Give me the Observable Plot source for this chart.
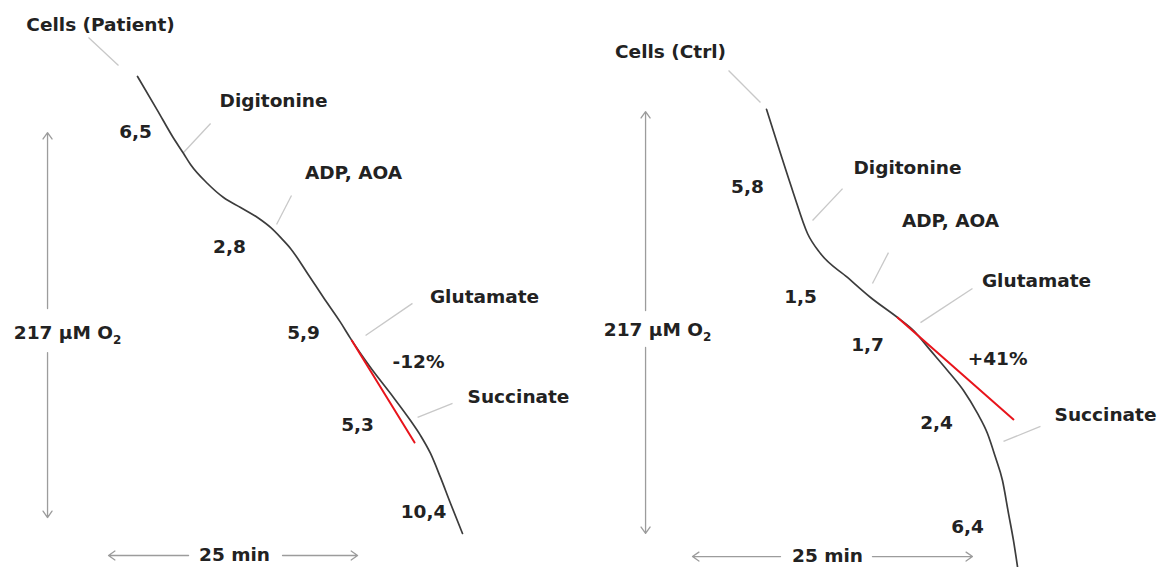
<!DOCTYPE html>
<html>
<head>
<meta charset="utf-8">
<script src="https://cdn.jsdelivr.net/npm/d3@7"></script>
<script src="https://cdn.jsdelivr.net/npm/@observablehq/plot@0.6"></script>
<style>
  html, body { margin: 0; padding: 0; background: #fff; }
  #wrap { display: flex; width: 1159px; height: 567px; overflow: hidden; }
  #wrap svg { display: block; }
</style>
</head>
<body>
<div id="wrap"></div>
<script>
// ---------- data (time in min from cell addition, O2 in µM) ----------
const patientTime = [0, 2.01, 3.51, 4.62, 5.32, 7.02, 8.63, 10.34, 12.04, 13.35, 14.35, 15.35, 17.06, 18.66, 20.37, 21.37, 23.38, 25.39, 27.39, 28.40, 29.40, 30.40, 31.41, 32.61];
const patientO2   = [257.6, 238.4, 223.8, 214.2, 208.0, 197.3, 189.4, 183.8, 178.1, 172.5, 166.9, 160.7, 146.6, 133.0, 119.0, 110.0, 93.6, 78.9, 63.7, 55.2, 45.1, 31.6, 16.9, 0];
const ctrlTime = [0, 1.25, 2.41, 3.66, 4.82, 7.23, 9.29, 11.70, 13.13, 14.64, 16.16, 17.59, 18.84, 19.73, 20.45, 21.07, 21.61, 22.05, 22.41];
const ctrlO2   = [235.0, 212.3, 191.8, 171.2, 160.9, 148.6, 138.3, 128.0, 121.3, 111.1, 100.8, 90.5, 78.7, 68.4, 56.0, 44.2, 27.2, 13.4, 0];

const additionsPatient = ["Cells (Patient)", "Digitonine", "ADP, AOA", "Glutamate", "Succinate"];
const additionsCtrl    = ["Cells (Ctrl)", "Digitonine", "ADP, AOA", "Glutamate", "Succinate"];
const ratesPatient = ["6,5", "2,8", "5,9", "5,3", "10,4"];
const ratesCtrl    = ["5,8", "1,5", "1,7", "2,4", "6,4"];
const fitPatientTime = [21.5, 27.8];
const fitPatientO2   = [108.8, 51.3];
const fitCtrlTime = [11.7, 22.05];
const fitCtrlO2   = [128.0, 75.6];
const changePatient = "-12%";
const changeCtrl = "+41%";
const scaleO2Label = "217 µM O2";
const scaleTimeLabel = "25 min";

// ---------- layout (positions in the same data units) ----------
const layoutPatient = {
  width: 580,
  xDomain: [-13.75, 44.45], yDomain: [-19.17, 300.45],
  add: [[-3.71, 286.4], [13.65, 243.5], [21.67, 202.9], [34.82, 133.0], [38.23, 76.7]],
  leaders: [[-4.92, 279.6, -1.91, 263.8], [7.33, 231.1, 4.62, 214.8], [15.45, 190.5, 13.95, 174.2],
            [27.59, 129.7, 22.88, 111.6], [31.61, 73.3, 28.10, 65.4]],
  rates: [[-0.20, 226.0], [9.23, 161.2], [16.66, 112.7], [22.08, 60.9], [28.70, 11.8]],
  change: [28.2, 96.4],
  o2Label: [-7.02, 112.7], timeLabel: [9.73, -12.4],
  arrows: [[-9.03, 126.8, -9.03, 226.0], [-9.03, 102.0, -9.03, 9.0],
           [5.12, -12.4, -2.91, -12.4], [14.55, -12.4, 22.08, -12.4]]
};
const layoutCtrl = {
  width: 579,
  xDomain: [-16.61, 35.09], yDomain: [-0.51, 291.0],
  add: [[-8.57, 264.3], [12.59, 205.1], [16.43, 177.4], [24.11, 147.0], [30.27, 77.6]],
  leaders: [[-3.39, 255.0, -0.54, 238.6], [6.79, 194.3, 4.11, 177.9], [10.89, 161.4, 9.46, 145.5],
            [18.39, 142.9, 13.75, 125.4], [24.46, 72.0, 21.16, 64.3]],
  rates: [[-1.70, 194.9], [3.04, 138.3], [9.02, 114.1], [15.18, 73.5], [17.95, 20.1]],
  change: [20.63, 106.9],
  o2Label: [-9.73, 121.3], timeLabel: [5.45, 5.6],
  arrows: [[-10.80, 131.6, -10.80, 233.9], [-10.80, 112.6, -10.80, 17.0],
           [1.25, 5.1, -6.61, 5.1], [9.46, 5.1, 18.39, 5.1]]
};

const FONT = "DejaVu Sans";

function panel(time, o2, additions, rates, fitT, fitO2, change, L) {
  const trace = time.map((t, i) => ({t, o2: o2[i]}));
  const fit = fitT.map((t, i) => ({t, o2: fitO2[i]}));
  const labels = [
    ...additions.map((s, i) => ({s, t: L.add[i][0], o2: L.add[i][1]})),
    ...rates.map((s, i) => ({s, t: L.rates[i][0], o2: L.rates[i][1]})),
    {s: change, t: L.change[0], o2: L.change[1]},
    {s: scaleO2Label, t: L.o2Label[0], o2: L.o2Label[1]},
    {s: scaleTimeLabel, t: L.timeLabel[0], o2: L.timeLabel[1]}
  ];
  const leaders = L.leaders.map(([x1, y1, x2, y2]) => ({x1, y1, x2, y2}));
  const arrows = L.arrows.map(([x1, y1, x2, y2]) => ({x1, y1, x2, y2}));
  const svg = Plot.plot({
    width: L.width, height: 567, margin: 0,
    x: {domain: L.xDomain, axis: null},
    y: {domain: L.yDomain, axis: null},
    style: {background: "#fff"},
    marks: [
      Plot.link(leaders, {x1: "x1", y1: "y1", x2: "x2", y2: "y2", stroke: "#c8c8c8", strokeWidth: 1.3}),
      Plot.arrow(arrows, {x1: "x1", y1: "y1", x2: "x2", y2: "y2", bend: 0, stroke: "#9c9c9c", strokeWidth: 1.3, headLength: 9, headAngle: 70}),
      Plot.line(trace, {x: "t", y: "o2", curve: "monotone-x", stroke: "#3c3c3c", strokeWidth: 1.7}),
      Plot.line(fit, {x: "t", y: "o2", stroke: "#e8141b", strokeWidth: 2}),
      Plot.text(labels, {x: "t", y: "o2", text: "s", fontFamily: FONT, fontWeight: "bold", fontSize: 18.5, fill: "#222"})
    ]
  });
  // subscript the 2 of O2
  d3.select(svg).selectAll("text").each(function () {
    if (this.textContent === scaleO2Label) {
      this.textContent = scaleO2Label.slice(0, -1);
      d3.select(this).append("tspan").attr("font-size", 12).attr("dy", "0.35em").text("2");
    }
  });
  return svg;
}

const wrap = document.getElementById("wrap");
wrap.appendChild(panel(patientTime, patientO2, additionsPatient, ratesPatient, fitPatientTime, fitPatientO2, changePatient, layoutPatient));
wrap.appendChild(panel(ctrlTime, ctrlO2, additionsCtrl, ratesCtrl, fitCtrlTime, fitCtrlO2, changeCtrl, layoutCtrl));
</script>
</body>
</html>
